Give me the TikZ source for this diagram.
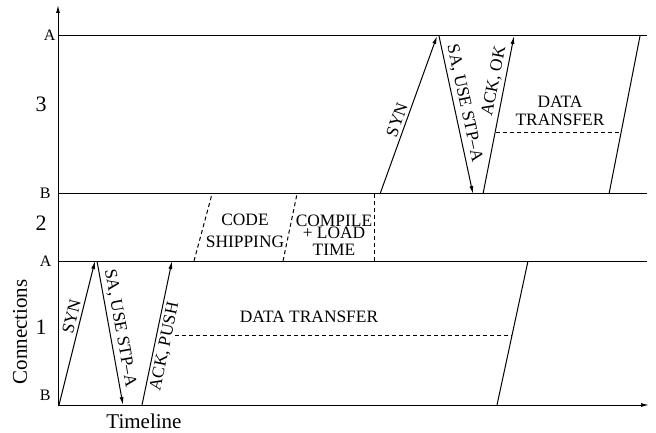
\documentclass[tikz,border=0pt]{standalone}
\usepackage{fontspec}
\setmainfont{Liberation Serif}
\usetikzlibrary{arrows.meta}
\usetikzlibrary{positioning}
\tikzset{>={Latex[length=4pt,width=2pt]}}

\begin{document}
\begin{tikzpicture}[x=0.5pt,y=-0.5pt,line width=0.5pt,
    lbl/.style={font=\fontsize{8.7}{9}\selectfont},
    msg/.style={lbl, sloped, inner sep=1.5pt},
    side/.style={font=\fontsize{8}{9}\selectfont, inner sep=0.5pt, anchor=east},
    num/.style={font=\fontsize{11}{12}\selectfont},
    axislbl/.style={font=\fontsize{10.5}{12}\selectfont},
    gap/.style={dash pattern=on 2pt off 1.5pt}]
    \useasboundingbox (0,0) rectangle (656,432);

    % axes
    \coordinate (O) at (58,405);
    \coordinate (Ytip) at (58,5);
    \coordinate (Xtip) at (649,405);
    \draw [->] (O) -- (Ytip);
    \draw [->] (O) -- (Xtip);
    \node [axislbl, rotate=90] (conn) at (20,332) {Connections};
    \node [axislbl] (time) at (144,421) {Timeline};

    % borders between the connections
    \foreach \n/\y in {A3/36, B3/194, A1/261} {
        \coordinate (\n) at (58,\y);
        \coordinate (\n-end) at (647,\y);
        \draw (\n) -- (\n-end);
    }
    \node [side] (lA3) at (57,35) {A};
    \node [side] (lB3) at (52,193) {B};
    \node [side] (lA1) at (53,261) {A};
    \node [side] (lB1) at (52,395) {B};
    \node [num] (n3) at (41,104) {3};
    \node [num] (n2) at (41,223) {2};
    \node [num] (n1) at (41,327) {1};

    % connection 1
    \coordinate (syn1b) at (59,405);
    \coordinate (syn1t) at (95,261);
    \coordinate (sa1t) at (97,261);
    \coordinate (sa1b) at (123,405);
    \coordinate (ack1b) at (142,405);
    \coordinate (ack1t) at (172,261);
    \coordinate (end1b) at (497,405);
    \coordinate (end1t) at (528,261);
    \coordinate (dt1l) at (175,335);
    \coordinate (dt1r) at (512,335);
    \draw [->] (syn1b) -- (syn1t) node [msg, above, pos=0.6] {SYN};
    \draw [->] (sa1t) -- (sa1b) node [msg, above, pos=0.48] {SA, USE STP--A};
    \draw [->] (ack1b) -- (ack1t) node [msg, below, pos=0.42] {ACK, PUSH};
    \draw (end1b) -- (end1t);
    \draw [gap] (dt1l) -- (dt1r);
    \node [lbl] (dt1) at (309,317) {DATA TRANSFER};

    % connection 2
    \coordinate (ship1b) at (194,261);
    \coordinate (ship1t) at (212,194);
    \coordinate (ship2b) at (283,261);
    \coordinate (ship2t) at (297,194);
    \coordinate (load1b) at (374,261);
    \coordinate (load1t) at (374,194);
    \draw [gap] (ship1b) -- (ship1t);
    \draw [gap] (ship2b) -- (ship2t);
    \draw [gap] (load1b) -- (load1t);
    \node [lbl, align=center] (ship) at (245,231) {CODE\\[2pt]SHIPPING};
    \node [lbl, align=center] (load) at (334,235) {COMPILE\\[-3pt]+ LOAD\\[-0.5pt]TIME};

    % connection 3
    \coordinate (syn3b) at (380,194);
    \coordinate (syn3t) at (437,36);
    \coordinate (sa3t) at (439,36);
    \coordinate (sa3b) at (473,194);
    \coordinate (ack3b) at (483,194);
    \coordinate (ack3t) at (514,36);
    \coordinate (end3b) at (609,194);
    \coordinate (end3t) at (640,36);
    \coordinate (dt3l) at (496,133);
    \coordinate (dt3r) at (622,133);
    \draw [->] (syn3b) -- (syn3t) node [msg, above, pos=0.45] {SYN};
    \draw [->] (sa3t) -- (sa3b) node [msg, above, pos=0.44] {SA, USE STP--A};
    \draw [->] (ack3b) -- (ack3t) node [msg, above, pos=0.7] {ACK, OK};
    \draw (end3b) -- (end3t);
    \draw [gap] (dt3l) -- (dt3r);
    \node [lbl, align=center] (dt3) at (560,111) {DATA\\TRANSFER};
\end{tikzpicture}
\end{document}
